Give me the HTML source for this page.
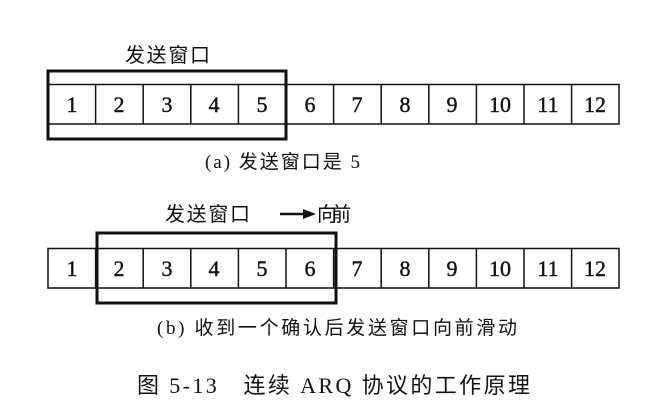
<!DOCTYPE html>
<html><head><meta charset="utf-8"><style>
html,body{margin:0;padding:0;background:#fff;width:656px;height:413px;overflow:hidden}
svg text{font-family:"Liberation Serif","Noto Serif CJK SC",serif;fill:#111}
.c{font-family:"Liberation Serif","Noto Sans CJK SC",sans-serif}
</style></head><body>
<svg width="656" height="413" viewBox="0 0 656 413" xmlns="http://www.w3.org/2000/svg">
<g stroke="#111" fill="none" stroke-width="1.5">
<rect x="48" y="84.5" width="571" height="39.5"/>
<rect x="48" y="248.5" width="571" height="39.5"/>
</g>
<g stroke="#111" stroke-width="1.5" id="l">
<line x1="95.6" y1="84" x2="95.6" y2="124"/><line x1="143.2" y1="84" x2="143.2" y2="124"/>
<line x1="190.8" y1="84" x2="190.8" y2="124"/><line x1="238.4" y1="84" x2="238.4" y2="124"/>
<line x1="286" y1="84" x2="286" y2="124"/><line x1="333.6" y1="84" x2="333.6" y2="124"/>
<line x1="381.2" y1="84" x2="381.2" y2="124"/><line x1="428.8" y1="84" x2="428.8" y2="124"/>
<line x1="476.4" y1="84" x2="476.4" y2="124"/><line x1="524" y1="84" x2="524" y2="124"/>
<line x1="571.6" y1="84" x2="571.6" y2="124"/>
</g>
<use href="#l" y="164"/>
<g stroke="#111" fill="none" stroke-width="3">
<rect x="48" y="71" width="238" height="68"/>
<rect x="97" y="233" width="239" height="70"/>
</g>
<g font-size="22" text-anchor="middle" stroke="#111" stroke-width="0.4">
<text x="72" y="112">1</text><text x="119" y="112">2</text><text x="167" y="112">3</text><text x="214" y="112">4</text><text x="262" y="112">5</text><text x="310" y="112">6</text><text x="357" y="112">7</text><text x="405" y="112">8</text><text x="452" y="112">9</text><text x="500" y="112">10</text><text x="548" y="112">11</text><text x="595" y="112">12</text>
<text x="72" y="276">1</text><text x="119" y="276">2</text><text x="167" y="276">3</text><text x="214" y="276">4</text><text x="262" y="276">5</text><text x="310" y="276">6</text><text x="357" y="276">7</text><text x="405" y="276">8</text><text x="452" y="276">9</text><text x="500" y="276">10</text><text x="548" y="276">11</text><text x="595" y="276">12</text>
</g>
<text class="c" x="125" y="62" font-size="20" textLength="85" lengthAdjust="spacing">发送窗口</text>
<text class="c" x="205" y="168" font-size="19" textLength="155" lengthAdjust="spacing">(a) 发送窗口是 5</text>
<text class="c" x="165" y="221" font-size="20" textLength="85" lengthAdjust="spacing">发送窗口</text>
<line x1="280" y1="214" x2="305" y2="214" stroke="#111" stroke-width="2.5"/>
<polygon points="303,209 316,214 303,219" fill="#111"/>
<text class="c" x="317" y="221" font-size="20" textLength="34" lengthAdjust="spacing">向前</text>
<text class="c" x="157" y="334" font-size="19" textLength="360" lengthAdjust="spacing">(b) 收到一个确认后发送窗口向前滑动</text>
<text class="c" x="137" y="393" font-size="22" textLength="393" lengthAdjust="spacing">图 5-13　连续 ARQ 协议的工作原理</text>
</svg>
</body></html>
